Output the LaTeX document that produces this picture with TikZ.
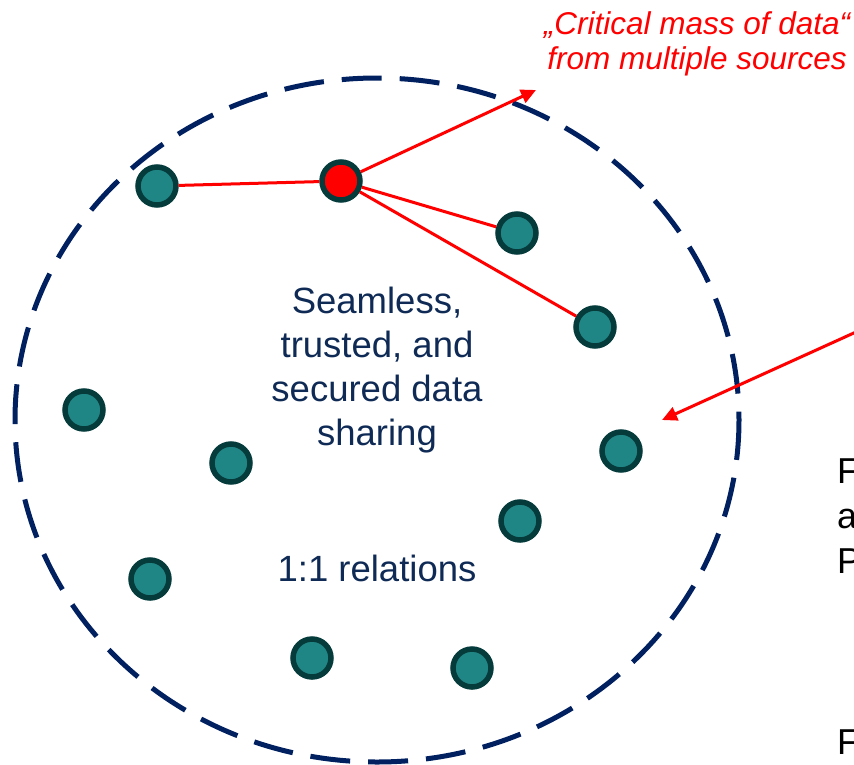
\documentclass[tikz,border=0pt]{standalone}
\usepackage{fontspec}
\setmainfont{Liberation Sans}
\usetikzlibrary{arrows.meta}
\definecolor{navy}{HTML}{002060}
\definecolor{txtnavy}{HTML}{0E2A55}
\definecolor{tealfill}{HTML}{1F8585}
\definecolor{tealborder}{HTML}{063B3B}
\definecolor{pred}{HTML}{FF0000}
\tikzset{
  dot/.style={circle, draw=tealborder, fill=tealfill, line width=5.5pt, minimum size=38pt, inner sep=0pt},
  reddot/.style={dot, fill=pred},
  redline/.style={draw=pred, line width=3pt},
  redarrow/.style={redline, -{Triangle[length=15pt,width=14pt]}},
  maintext/.style={text=txtnavy, font=\fontsize{36.5}{44}\selectfont, align=center, inner sep=0pt},
  redtext/.style={text=pred, font=\fontsize{31.5}{35}\selectfont\itshape, align=center, inner sep=0pt},
  sidetext/.style={text=black, font=\fontsize{36}{45}\selectfont, align=left, inner sep=0pt}
}
\begin{document}
\begin{tikzpicture}[x=1pt,y=-1pt]
\useasboundingbox (0,0) rectangle (854,764);
% dashed ellipse
\draw[navy, line width=5pt, dash pattern=on 40pt off 18pt] (377,420) ellipse [x radius=362, y radius=342];
% nodes
\node[dot] (a) at (157,186) {};
\node[reddot] (r) at (341,181) {};
\node[dot] (b) at (517,233) {};
\node[dot] (c) at (595,327) {};
\node[dot] (d) at (84,410) {};
\node[dot] (e) at (231,463) {};
\node[dot] (f) at (621,451) {};
\node[dot] (g) at (520,521) {};
\node[dot] (h) at (150,579) {};
\node[dot] (i) at (312,658) {};
\node[dot] (j) at (472,668) {};
% red connectors
\draw[redline] (r) -- (a);
\draw[redline] (r) -- (b);
\draw[redline] (r) -- (c);
\coordinate (crit) at (536,90);
\draw[redarrow] (r) -- (crit);
\coordinate (outr) at (856,332);
\coordinate (tipf) at (662,420);
\draw[redarrow] (outr) -- (tipf);
% texts
\node[maintext] (share) at (377,370) {Seamless,\\trusted, and\\secured data\\sharing};
\node[maintext, anchor=base] (rel) at (377,581) {1:1 relations};
\node[redtext] (mass) at (697,44) {„Critical mass of data“\\from multiple sources};
\node[sidetext, anchor=north west] (side1) at (837,459) {F\\a\\P};
\node[sidetext, anchor=base west] (side2) at (837,754) {F};
\end{tikzpicture}
\end{document}
